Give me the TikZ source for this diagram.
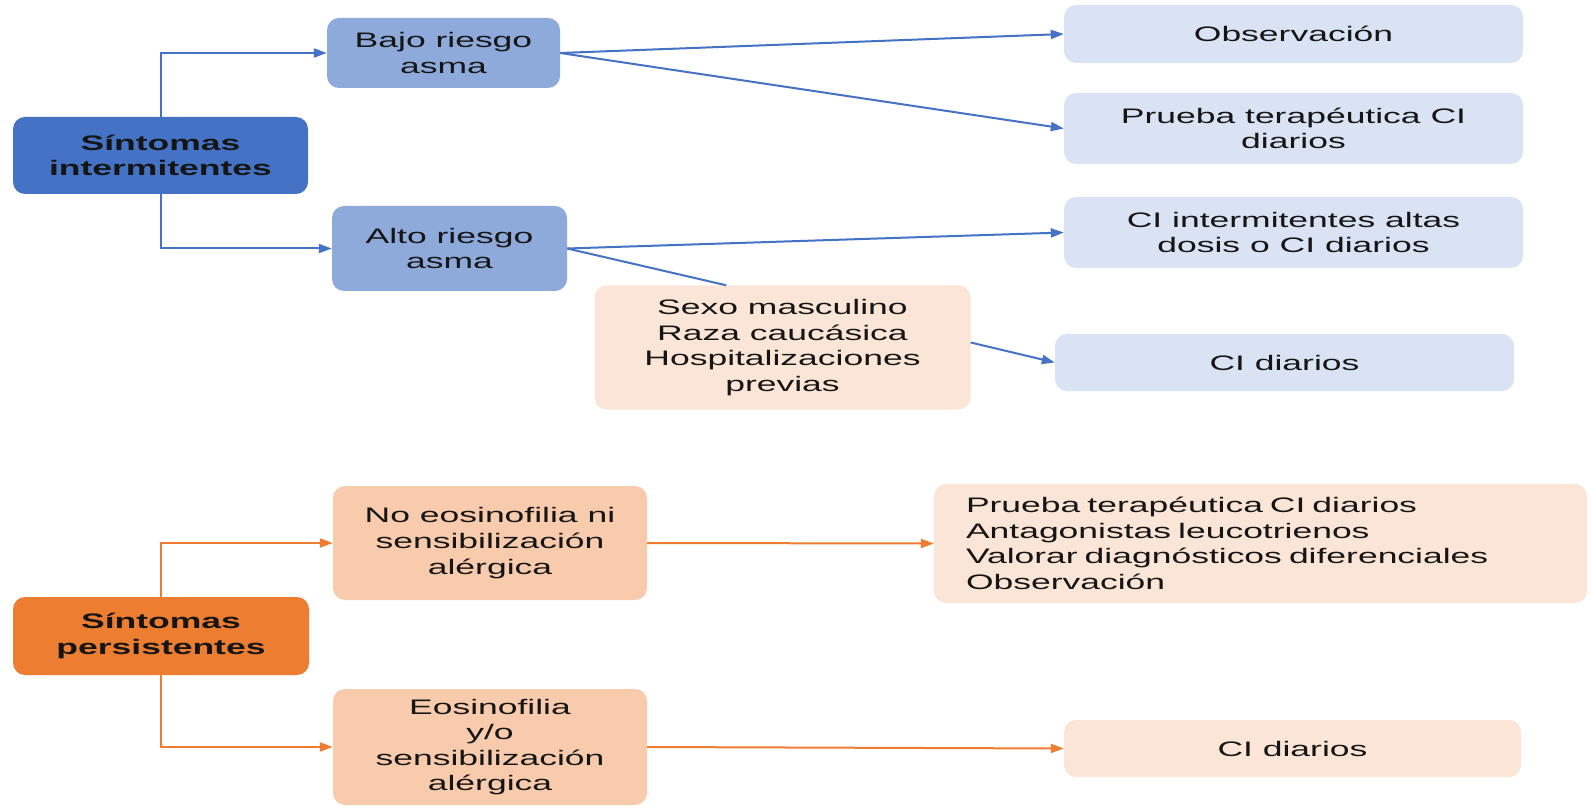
\documentclass[tikz,border=0pt]{standalone}
\usepackage{fontspec}
\setmainfont{Liberation Sans}[FakeStretch=1.69]
\usetikzlibrary{arrows.meta}
\definecolor{dblue}{HTML}{4472C4}
\definecolor{mblue}{HTML}{8EAADB}
\definecolor{lblue}{HTML}{DAE3F3}
\definecolor{dorange}{HTML}{ED7D31}
\definecolor{morange}{HTML}{F8CBAD}
\definecolor{lorange}{HTML}{FBE5D6}
\definecolor{txt}{HTML}{151515}
\begin{document}
\begin{tikzpicture}[x=1pt,y=-1pt,
  box/.style={rectangle, rounded corners=12pt, inner sep=0pt, align=center, text=txt,
    font=\fontsize{21}{25.6}\selectfont},
  boldbox/.style={box, font=\fontsize{21}{25.6}\selectfont\bfseries},
  arrb/.style={draw=dblue, line width=2pt, -{Triangle[length=13pt,width=9pt]}},
  lineb/.style={draw=dblue, line width=2pt},
  arro/.style={draw=dorange, line width=2pt, -{Triangle[length=13pt,width=9pt]}}
]
\useasboundingbox[fill=white] (0,0) rectangle (1591,810);

% intermittent branch
\node[boldbox, fill=dblue, minimum width=295pt, minimum height=77pt] (int) at (160.5,155.5) {Síntomas\\intermitentes};
\node[box, fill=mblue, minimum width=233pt, minimum height=70pt] (bajo) at (443.5,53) {Bajo riesgo\\asma};
\node[box, fill=mblue, minimum width=235pt, minimum height=85pt] (alto) at (449.5,248.5) {Alto riesgo\\asma};
\node[box, fill=lblue, minimum width=459pt, minimum height=58pt] (obs) at (1293.5,34) {Observación};
\node[box, fill=lblue, minimum width=459pt, minimum height=71pt] (prueba) at (1293.5,128.5) {Prueba terapéutica CI\\diarios};
\node[box, fill=lblue, minimum width=459pt, minimum height=71pt] (ciint) at (1293.5,232.5) {CI intermitentes altas\\dosis o CI diarios};
\node[box, fill=lorange, minimum width=376pt, minimum height=124pt] (sexo) at (782.5,347.5) {Sexo masculino\\Raza caucásica\\Hospitalizaciones\\previas};
\node[box, fill=lblue, minimum width=459pt, minimum height=57pt] (cid1) at (1284.5,362.5) {CI diarios};
\path (sexo.north west) ++(132,0) coordinate (sexotop);

\draw[arrb] (int.north) |- (bajo.west);
\draw[arrb] (int.south) |- (alto.west);
\draw[arrb] (bajo.east) -- (obs.west);
\draw[arrb] (bajo.east) -- (prueba.west);
\draw[arrb] (alto.east) -- (ciint.west);
\draw[lineb] (alto.east) -- (sexotop);
\draw[arrb] ([yshift=5pt]sexo.east) -- (cid1.west);

% persistent branch
\node[boldbox, fill=dorange, minimum width=296pt, minimum height=78pt] (pers) at (161,636) {Síntomas\\persistentes};
\node[box, fill=morange, minimum width=314pt, minimum height=114pt] (noeos) at (490,543) {No eosinofilia ni\\sensibilización\\alérgica};
\node[box, fill=morange, minimum width=314pt, minimum height=116pt] (eos) at (490,747) {Eosinofilia\\y/o\\sensibilización\\alérgica};
\node[box, fill=lorange, minimum width=653pt, minimum height=119pt, text width=589pt, inner xsep=32pt, align=left] (list) at (1260.5,543.5) {Prueba terapéutica CI diarios\\Antagonistas leucotrienos\\Valorar diagnósticos diferenciales\\Observación};
\node[box, fill=lorange, minimum width=457pt, minimum height=57pt] (cid2) at (1292.5,748.5) {CI diarios};

\draw[arro] (pers.north) |- (noeos.west);
\draw[arro] (pers.south) |- (eos.west);
\draw[arro] (noeos.east) -- (list.west);
\draw[arro] (eos.east) -- (cid2.west);
\end{tikzpicture}
\end{document}
